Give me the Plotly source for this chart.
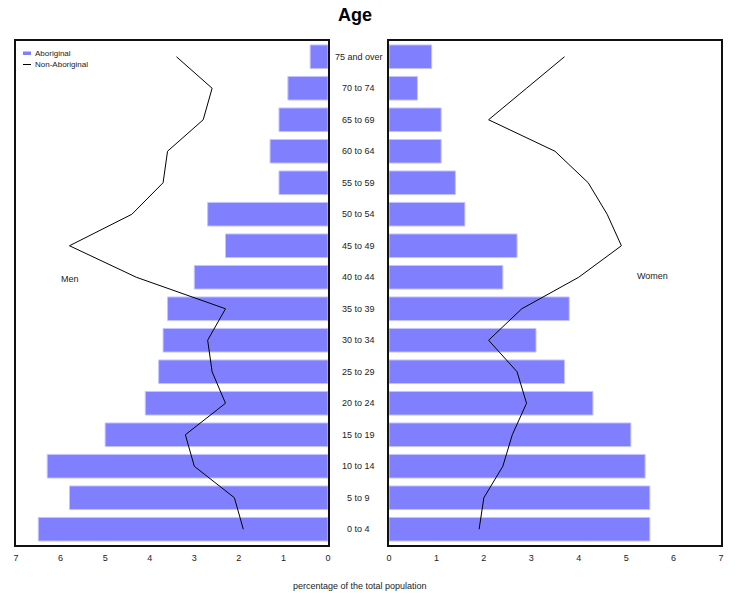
import plotly.graph_objects as go

ages = ["0 to 4", "5 to 9", "10 to 14", "15 to 19", "20 to 24", "25 to 29", "30 to 34",
        "35 to 39", "40 to 44", "45 to 49", "50 to 54", "55 to 59", "60 to 64",
        "65 to 69", "70 to 74", "75 and over"]
men_aboriginal = [6.5, 5.8, 6.3, 5.0, 4.1, 3.8, 3.7, 3.6, 3.0, 2.3, 2.7, 1.1, 1.3, 1.1, 0.9, 0.4]
men_non_aboriginal = [1.9, 2.1, 3.0, 3.2, 2.3, 2.6, 2.7, 2.3, 4.3, 5.8, 4.4, 3.7, 3.6, 2.8, 2.6, 3.4]
women_aboriginal = [5.5, 5.5, 5.4, 5.1, 4.3, 3.7, 3.1, 3.8, 2.4, 2.7, 1.6, 1.4, 1.1, 1.1, 0.6, 0.9]
women_non_aboriginal = [1.9, 2.0, 2.4, 2.6, 2.9, 2.7, 2.1, 2.8, 4.0, 4.9, 4.6, 4.2, 3.5, 2.1, 2.9, 3.7]
tick_vals = [0, 1, 2, 3, 4, 5, 6, 7]
legend_labels = ["Aboriginal", "Non-Aboriginal"]

W, H = 740, 594
FONT = "Liberation Sans, Arial, sans-serif"
BAR = "#8080ff"
BAR_EDGE = "#c4c4ff"
TXT = "#222"


def px(x):
    return x / W


def py(y):
    return 1 - y / H


fig = go.Figure()
fig.add_trace(go.Bar(y=ages, x=men_aboriginal, orientation="h", width=0.75,
                     marker=dict(color=BAR, line=dict(color=BAR_EDGE, width=1)),
                     name=legend_labels[0], xaxis="x", yaxis="y"))
fig.add_trace(go.Scatter(y=ages, x=men_non_aboriginal, mode="lines",
                         line=dict(color="black", width=1),
                         name=legend_labels[1], xaxis="x", yaxis="y"))
fig.add_trace(go.Bar(y=ages, x=women_aboriginal, orientation="h", width=0.75,
                     marker=dict(color=BAR, line=dict(color=BAR_EDGE, width=1)),
                     name=legend_labels[0], xaxis="x2", yaxis="y2"))
fig.add_trace(go.Scatter(y=ages, x=women_non_aboriginal, mode="lines",
                         line=dict(color="black", width=1),
                         name=legend_labels[1], xaxis="x2", yaxis="y2"))

axis_common = dict(showline=True, linecolor="#111", linewidth=2, mirror=True,
                   showgrid=False, zeroline=False, automargin=False,
                   tickfont=dict(size=9, color=TXT, family=FONT))
xticks = dict(ticks="outside", ticklen=3, tickcolor="rgba(0,0,0,0)")
fig.update_layout(
    template="none",
    width=W, height=H,
    margin=dict(l=0, r=0, t=0, b=0, autoexpand=False),
    paper_bgcolor="white", plot_bgcolor="white",
    font=dict(family=FONT, color=TXT),
    showlegend=False,
    xaxis=dict(domain=[px(16), px(328)], range=[7, 0], tickvals=tick_vals,
               anchor="y", **xticks, **axis_common),
    xaxis2=dict(domain=[px(389), px(721)], range=[0, 7], tickvals=tick_vals,
                anchor="y2", **xticks, **axis_common),
    yaxis=dict(domain=[py(545), py(41)], categoryorder="array", categoryarray=ages,
               range=[-0.5, len(ages) - 0.5], showticklabels=False, ticks="",
               anchor="x", **axis_common),
    yaxis2=dict(domain=[py(545), py(41)], categoryorder="array", categoryarray=ages,
                range=[-0.5, len(ages) - 0.5], showticklabels=False, ticks="",
                anchor="x2", **axis_common),
    title=dict(text="<b>Age</b>", x=px(355), xanchor="center", y=py(15),
               yanchor="middle", font=dict(size=18, family=FONT, color="black")),
)

# legend (drawn manually to match the small symbols of the original)
fig.add_shape(type="rect", xref="paper", yref="paper", x0=px(23), x1=px(31),
              y0=py(55), y1=py(51.5), fillcolor=BAR, line=dict(width=0))
fig.add_shape(type="line", xref="paper", yref="paper", x0=px(23), x1=px(31),
              y0=py(64.5), y1=py(64.5), line=dict(color="black", width=1))
for lab, yy in zip(legend_labels, [53.5, 64.5]):
    fig.add_annotation(x=px(33), xref="paper", y=py(yy), yref="paper", text=lab,
                       showarrow=False, xanchor="left", yanchor="middle",
                       font=dict(size=8, family=FONT, color=TXT))

for a in ages:
    fig.add_annotation(x=px(358.5), xref="paper", y=a, yref="y", text=a,
                       showarrow=False, xanchor="center", yanchor="middle",
                       font=dict(size=9, family=FONT, color=TXT))

fig.add_annotation(x=px(70), xref="paper", y=py(279), yref="paper", text="Men",
                   showarrow=False, xanchor="center", yanchor="middle",
                   font=dict(size=9, family=FONT, color=TXT))
fig.add_annotation(x=px(652), xref="paper", y=py(276), yref="paper", text="Women",
                   showarrow=False, xanchor="center", yanchor="middle",
                   font=dict(size=9, family=FONT, color=TXT))
fig.add_annotation(x=px(360), xref="paper", y=py(586), yref="paper",
                   text="percentage of the total population",
                   showarrow=False, xanchor="center", yanchor="middle",
                   font=dict(size=9, family=FONT, color=TXT))

fig.write_html("out.html")
